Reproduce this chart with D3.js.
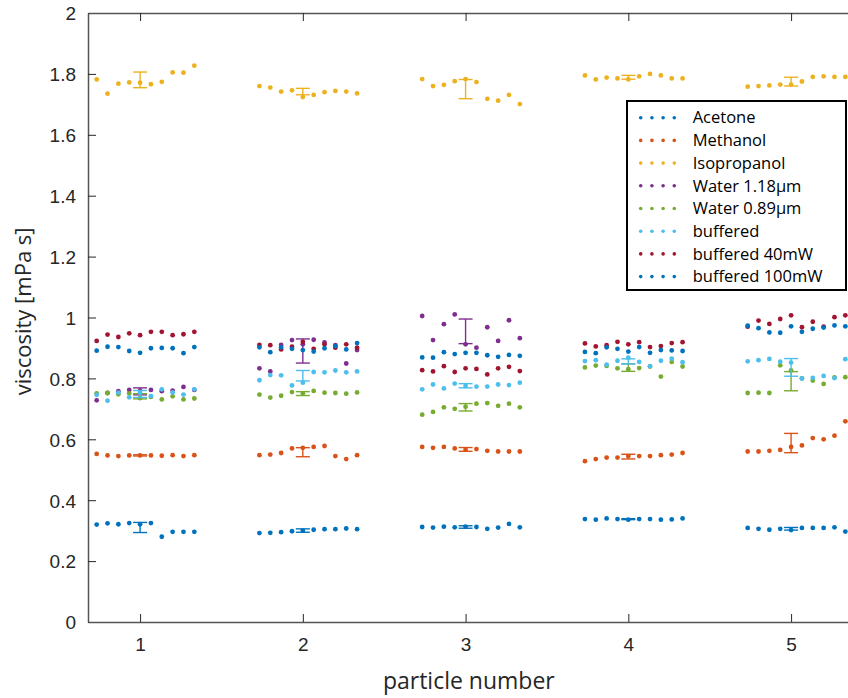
<!DOCTYPE html>
<html>
<head>
<meta charset="utf-8">
<script src="https://cdn.jsdelivr.net/npm/d3@7"></script>
<style>
  body { margin: 0; background: #fff; }
  svg { display: block; }
</style>
</head>
<body>
<div id="chart"></div>
<script>
// particle numbers (x categories)
var particles = [1, 2, 3, 4, 5];
var xTicks = [1, 2, 3, 4, 5];
var yTicks = [0, 0.2, 0.4, 0.6, 0.8, 1, 1.2, 1.4, 1.6, 1.8, 2];
var yTickLabels = ["0", "0.2", "0.4", "0.6", "0.8", "1", "1.2", "1.4", "1.6", "1.8", "2"];

var seriesNames = ["Acetone", "Methanol", "Isopropanol", "Water 1.18\u00b5m", "Water 0.89\u00b5m",
                   "buffered", "buffered 40mW", "buffered 100mW"];
var seriesColors = ["#0072BD", "#D95319", "#EDB120", "#7E2F8E", "#77AC30", "#4DBEEE", "#A2142F", "#0072BD"];
// which series got an error bar (mean +- std)
var hasErrorBar = [true, true, true, true, true, true, false, false];

// 10 repeated measurements per particle, one row per particle
var acetone = [
  [0.320, 0.324, 0.321, 0.325, 0.321, 0.325, 0.280, 0.296, 0.296, 0.296],
  [0.292, 0.293, 0.295, 0.298, 0.300, 0.303, 0.305, 0.305, 0.307, 0.305],
  [0.312, 0.310, 0.313, 0.311, 0.313, 0.312, 0.306, 0.310, 0.322, 0.311],
  [0.338, 0.336, 0.340, 0.338, 0.336, 0.338, 0.338, 0.336, 0.337, 0.340],
  [0.309, 0.306, 0.303, 0.306, 0.302, 0.309, 0.309, 0.309, 0.311, 0.297]
];
var methanol = [
  [0.552, 0.547, 0.545, 0.547, 0.547, 0.547, 0.546, 0.548, 0.545, 0.548],
  [0.548, 0.550, 0.555, 0.570, 0.572, 0.575, 0.578, 0.545, 0.535, 0.548],
  [0.575, 0.572, 0.575, 0.570, 0.566, 0.568, 0.562, 0.560, 0.560, 0.560],
  [0.528, 0.535, 0.540, 0.540, 0.545, 0.545, 0.545, 0.548, 0.550, 0.555],
  [0.560, 0.560, 0.562, 0.565, 0.575, 0.580, 0.604, 0.600, 0.612, 0.659]
];
var isopropanol = [
  [1.782, 1.735, 1.768, 1.772, 1.771, 1.766, 1.774, 1.805, 1.804, 1.827],
  [1.760, 1.755, 1.742, 1.746, 1.724, 1.731, 1.740, 1.744, 1.742, 1.736],
  [1.783, 1.760, 1.764, 1.776, 1.783, 1.773, 1.718, 1.712, 1.731, 1.701],
  [1.795, 1.782, 1.788, 1.785, 1.782, 1.792, 1.800, 1.795, 1.785, 1.785],
  [1.758, 1.760, 1.762, 1.765, 1.765, 1.775, 1.790, 1.792, 1.790, 1.790]
];
var water118 = [
  [0.728, 0.752, 0.758, 0.762, 0.760, 0.762, 0.758, 0.760, 0.772, 0.762],
  [0.833, 0.823, 0.910, 0.926, 0.912, 0.927, 0.918, 0.909, 0.849, 0.893],
  [1.005, 0.926, 0.978, 1.010, 0.912, 0.901, 0.968, 0.923, 0.991, 0.932],
  null,
  null
];
var water089 = [
  [0.751, 0.752, 0.748, 0.751, 0.735, 0.739, 0.731, 0.741, 0.731, 0.734],
  [0.747, 0.737, 0.743, 0.755, 0.751, 0.759, 0.753, 0.752, 0.750, 0.754],
  [0.681, 0.690, 0.705, 0.700, 0.707, 0.717, 0.719, 0.710, 0.717, 0.705],
  [0.836, 0.842, 0.841, 0.833, 0.830, 0.834, 0.839, 0.806, 0.854, 0.839],
  [0.752, 0.753, 0.752, 0.843, 0.826, 0.800, 0.793, 0.782, 0.803, 0.804]
];
var buffered = [
  [0.746, 0.727, 0.753, 0.738, 0.753, 0.742, 0.764, 0.754, 0.747, 0.764],
  [0.794, 0.811, 0.810, 0.777, 0.786, 0.821, 0.820, 0.826, 0.820, 0.823],
  [0.764, 0.780, 0.767, 0.783, 0.775, 0.773, 0.773, 0.780, 0.778, 0.786],
  [0.857, 0.860, 0.845, 0.858, 0.868, 0.854, 0.840, 0.858, 0.865, 0.853],
  [0.856, 0.860, 0.864, 0.855, 0.852, 0.800, 0.802, 0.808, 0.801, 0.863]
];
var buffered40 = [
  [0.923, 0.944, 0.936, 0.948, 0.942, 0.953, 0.953, 0.942, 0.945, 0.953],
  [0.910, 0.909, 0.895, 0.904, 0.920, 0.897, 0.912, 0.901, 0.912, 0.901],
  [0.827, 0.823, 0.840, 0.821, 0.833, 0.831, 0.813, 0.833, 0.838, 0.824],
  [0.915, 0.905, 0.909, 0.920, 0.912, 0.919, 0.903, 0.906, 0.916, 0.919],
  [0.970, 0.990, 0.979, 0.995, 1.007, 0.968, 0.986, 0.970, 1.001, 1.007]
];
var buffered100 = [
  [0.891, 0.904, 0.903, 0.890, 0.884, 0.899, 0.900, 0.899, 0.883, 0.903],
  [0.902, 0.886, 0.902, 0.897, 0.893, 0.888, 0.899, 0.906, 0.895, 0.916],
  [0.869, 0.868, 0.886, 0.880, 0.884, 0.884, 0.876, 0.871, 0.877, 0.874],
  [0.887, 0.883, 0.902, 0.897, 0.888, 0.903, 0.884, 0.893, 0.892, 0.890],
  [0.973, 0.965, 0.951, 0.950, 0.971, 0.953, 0.963, 0.967, 0.974, 0.971]
];

var allSeries = [acetone, methanol, isopropanol, water118, water089, buffered, buffered40, buffered100];

var W = 848, H = 698;
var margin = {left: 88, top: 13, bottom: 76};

var svg = d3.select("#chart").append("svg")
  .attr("width", W)
  .attr("height", H);

// axes box runs off the right edge of the picture
var x = d3.scaleLinear().domain([0.68, 5.5]).range([margin.left, margin.left + 4.82 * 162.75]);
var y = d3.scaleLinear().domain([0, 2]).range([H - margin.bottom, margin.top]);

var axisColor = "#262626";
var tickFont = "'Liberation Sans', Arial, sans-serif";
var labelFont = "'Open Sans', 'Noto Sans', sans-serif";

// dots, then error bars (mean +- std), series by series
var spacing = 1 / 15;
allSeries.forEach(function(series, s) {
  var g = svg.append("g").attr("class", "series-" + s);
  series.forEach(function(vals, p) {
    if (!vals) return;
    var n = particles[p];
    g.selectAll("circle.p" + p)
      .data(vals)
      .enter()
      .append("circle")
      .attr("cx", function(d, i) { return x(n + (i - 4) * spacing); })
      .attr("cy", function(d) { return y(d); })
      .attr("r", 2.4)
      .attr("fill", seriesColors[s]);
  });
  if (!hasErrorBar[s]) return;
  series.forEach(function(vals, p) {
    if (!vals) return;
    var n = particles[p];
    var m = d3.mean(vals), sd = d3.deviation(vals);
    var cx = x(n), hw = 7;
    var eb = g.append("g")
      .attr("stroke", seriesColors[s])
      .attr("stroke-width", 1.4)
      .attr("fill", "none");
    eb.append("line").attr("x1", cx).attr("x2", cx).attr("y1", y(m - sd)).attr("y2", y(m + sd));
    eb.append("line").attr("x1", cx - hw).attr("x2", cx + hw).attr("y1", y(m - sd)).attr("y2", y(m - sd));
    eb.append("line").attr("x1", cx - hw).attr("x2", cx + hw).attr("y1", y(m + sd)).attr("y2", y(m + sd));
  });
});

// axes
var yAxis = svg.append("g")
  .attr("transform", "translate(" + margin.left + ",0)")
  .call(d3.axisLeft(y)
    .tickValues(yTicks)
    .tickFormat(function(d, i) { return yTickLabels[i]; })
    .tickSizeInner(-8)
    .tickSizeOuter(0)
    .tickPadding(12));

var xAxis = svg.append("g")
  .attr("transform", "translate(0," + y(0) + ")")
  .call(d3.axisBottom(x)
    .tickValues(xTicks)
    .tickFormat(d3.format("d"))
    .tickSizeInner(-8)
    .tickSizeOuter(0)
    .tickPadding(16));

var xTop = svg.append("g")
  .attr("transform", "translate(0," + y(2) + ")")
  .call(d3.axisTop(x)
    .tickValues(xTicks)
    .tickFormat("")
    .tickSizeInner(-8)
    .tickSizeOuter(0));

[yAxis, xAxis, xTop].forEach(function(a) {
  a.select(".domain").attr("stroke", "#555").attr("stroke-width", 1.5);
  a.selectAll(".tick line").attr("stroke", axisColor).attr("stroke-width", 1);
  a.selectAll(".tick text")
    .attr("fill", axisColor)
    .attr("font-family", tickFont)
    .attr("font-size", "19px");
});
yAxis.selectAll(".tick text").attr("dy", "0.36em");

// axis labels
svg.append("text")
  .attr("x", x(3.02))
  .attr("y", 689)
  .attr("text-anchor", "middle")
  .attr("font-family", labelFont)
  .attr("font-size", "23px")
  .attr("fill", axisColor)
  .text("particle number");

svg.append("text")
  .attr("transform", "translate(31," + y(1.02) + ") rotate(-90)")
  .attr("text-anchor", "middle")
  .attr("font-family", labelFont)
  .attr("font-size", "22px")
  .attr("fill", axisColor)
  .text("viscosity [mPa s]");

// legend
var legend = svg.append("g").attr("transform", "translate(627,101)");
legend.append("rect")
  .attr("width", 219)
  .attr("height", 189)
  .attr("fill", "#fff")
  .attr("stroke", "#000")
  .attr("stroke-width", 2);

var rowH = 22.7;
var rows = legend.selectAll("g.row")
  .data(seriesNames)
  .enter()
  .append("g")
  .attr("class", "row")
  .attr("transform", function(d, i) { return "translate(0," + (16.7 + i * rowH) + ")"; });

rows.each(function(d, i) {
  d3.select(this).selectAll("circle")
    .data([0, 1, 2, 3])
    .enter()
    .append("circle")
    .attr("cx", function(k) { return 13.7 + k * 11.2; })
    .attr("cy", 0)
    .attr("r", 1.8)
    .attr("fill", seriesColors[i]);
});

rows.append("text")
  .attr("x", 65.7)
  .attr("y", 0)
  .attr("dy", "0.35em")
  .attr("font-family", labelFont)
  .attr("font-size", "16.5px")
  .attr("fill", "#000")
  .text(function(d) { return d; });
</script>
</body>
</html>
